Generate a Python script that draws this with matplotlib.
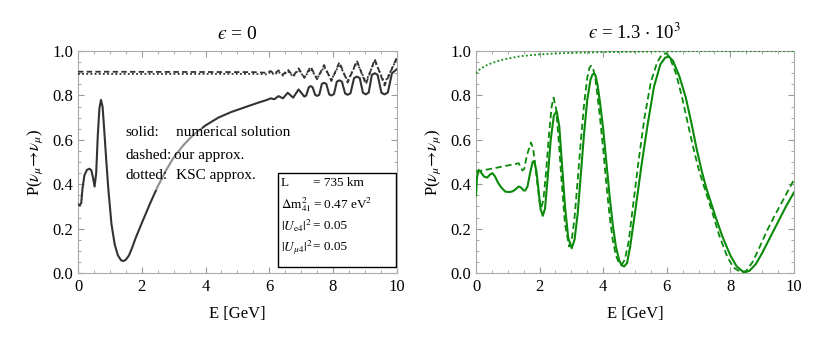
import matplotlib
matplotlib.use("Agg")
import matplotlib.pyplot as plt
from matplotlib.patches import Rectangle
from matplotlib.ticker import MultipleLocator

plt.rcParams["font.family"] = ["Liberation Serif", "DejaVu Serif"]
plt.rcParams["mathtext.fontset"] = "stix"

# ---- left panel (epsilon = 0) ----
e_solid_l = [0, 0.05, 0.1, 0.14, 0.2, 0.28, 0.36, 0.42, 0.47, 0.52, 0.57, 0.62, 0.67, 0.72,
             0.77, 0.82, 0.88, 0.95, 1.05, 1.15, 1.25, 1.35, 1.42, 1.5, 1.6, 1.7, 1.8, 1.9,
             2.0, 2.25, 2.5, 2.75, 3.0, 3.3, 3.6, 4.0, 4.4, 4.8, 5.2, 5.6,
             5.93, 6.04, 6.16, 6.29, 6.43, 6.58, 6.75, 6.92, 7.1, 7.16, 7.24, 7.3, 7.36, 7.44,
             7.5, 7.57, 7.65, 7.72, 7.79, 7.88, 7.95, 8.03, 8.12, 8.2, 8.28, 8.38, 8.46, 8.55,
             8.66, 8.75, 8.84, 8.94, 9.03, 9.12, 9.22, 9.31, 9.4, 9.52, 9.62, 9.72, 9.85, 10.0]
p_solid_l = [0.31, 0.305, 0.315, 0.38, 0.44, 0.465, 0.47, 0.462, 0.43, 0.39, 0.45, 0.62, 0.74, 0.78,
             0.75, 0.65, 0.52, 0.38, 0.22, 0.13, 0.08, 0.058, 0.054, 0.06, 0.08, 0.115, 0.155, 0.19,
             0.225, 0.31, 0.39, 0.46, 0.52, 0.575, 0.62, 0.665, 0.7, 0.725, 0.745, 0.765,
             0.78, 0.787, 0.783, 0.797, 0.787, 0.812, 0.79, 0.827, 0.795, 0.8, 0.837, 0.842, 0.837,
             0.803, 0.798, 0.803, 0.852, 0.857, 0.852, 0.805, 0.8, 0.806, 0.862, 0.868, 0.862,
             0.809, 0.803, 0.81, 0.878, 0.885, 0.878, 0.812, 0.805, 0.813, 0.893, 0.9, 0.893,
             0.812, 0.805, 0.813, 0.9, 0.918]

e_approx_l = [0, 5.5, 5.93, 6.04, 6.16, 6.29, 6.43, 6.58, 6.75, 6.92, 7.1, 7.3, 7.5, 7.72,
              7.95, 8.2, 8.46, 8.75, 9.03, 9.31, 9.62, 10.0]
p_dashed_l = [0.907, 0.905, 0.902, 0.91, 0.897, 0.913, 0.893, 0.917, 0.887, 0.922, 0.88, 0.93,
              0.873, 0.937, 0.865, 0.95, 0.858, 0.957, 0.85, 0.963, 0.845, 0.97]
p_dotted_l = [0.897, 0.897, 0.895, 0.905, 0.893, 0.907, 0.889, 0.91, 0.885, 0.915, 0.88, 0.92,
              0.876, 0.928, 0.871, 0.94, 0.866, 0.948, 0.862, 0.955, 0.856, 0.965]

# ---- right panel (epsilon = 1.3e3) ----
e_solid_r = [0.0, 0.03, 0.08, 0.15, 0.25, 0.35, 0.45, 0.52, 0.6, 0.7, 0.8, 0.92, 1.05, 1.15,
             1.25, 1.34, 1.42, 1.5, 1.55, 1.62, 1.7, 1.78, 1.83, 1.9, 1.97, 2.03, 2.1, 2.17,
             2.25, 2.35, 2.45, 2.54, 2.62, 2.7, 2.8, 2.9, 3.01, 3.1, 3.2, 3.3, 3.4, 3.5, 3.6,
             3.66, 3.71, 3.76, 3.82, 3.9, 4.0, 4.1, 4.2, 4.3, 4.4, 4.5, 4.58, 4.66, 4.75, 4.85,
             5.0, 5.2, 5.4, 5.6, 5.8, 5.95, 6.07, 6.2, 6.4, 6.6, 6.8, 6.94, 7.1, 7.25, 7.52,
             7.75, 8.0, 8.2, 8.43, 8.6, 8.8, 9.0, 9.25, 9.5, 9.75, 10.0]
p_solid_r = [0.35, 0.43, 0.465, 0.455, 0.435, 0.43, 0.445, 0.45, 0.435, 0.405, 0.385, 0.367,
             0.365, 0.368, 0.378, 0.39, 0.385, 0.372, 0.372, 0.39, 0.45, 0.5, 0.505, 0.46,
             0.37, 0.29, 0.258, 0.29, 0.42, 0.6, 0.71, 0.728, 0.66, 0.5, 0.3, 0.16, 0.112,
             0.15, 0.27, 0.45, 0.63, 0.78, 0.87, 0.893, 0.9, 0.89, 0.85, 0.77, 0.65, 0.5, 0.35,
             0.22, 0.12, 0.06, 0.035, 0.03, 0.045, 0.12, 0.27, 0.48, 0.67, 0.84, 0.94, 0.97,
             0.975, 0.955, 0.885, 0.79, 0.66, 0.56, 0.46, 0.38, 0.26, 0.165, 0.08, 0.03, 0.003,
             0.01, 0.04, 0.09, 0.16, 0.23, 0.3, 0.363]

e_dashed_r = [0.0, 0.3, 0.6, 0.9, 1.2, 1.34, 1.4, 1.46, 1.52, 1.6, 1.73, 1.8, 1.9, 2.0, 2.05,
              2.12, 2.2, 2.3, 2.38, 2.44, 2.52, 2.6, 2.7, 2.8, 2.93, 3.02, 3.1, 3.2, 3.3, 3.4,
              3.5, 3.57, 3.62, 3.68, 3.75, 3.82, 3.9, 4.0, 4.1, 4.2, 4.3, 4.4, 4.5, 4.58, 4.68,
              4.8, 4.92, 5.1, 5.3, 5.5, 5.7, 5.85, 5.99, 6.1, 6.3, 6.5, 6.7, 6.86, 7.0, 7.15,
              7.42, 7.65, 7.9, 8.1, 8.35, 8.5, 8.7, 8.9, 9.15, 9.4, 9.7, 10.0]
p_dashed_r = [0.457, 0.465, 0.473, 0.482, 0.49, 0.495, 0.48, 0.462, 0.47, 0.53, 0.588, 0.56,
              0.44, 0.32, 0.293, 0.33, 0.45, 0.63, 0.75, 0.79, 0.74, 0.6, 0.4, 0.22, 0.12, 0.16,
              0.25, 0.42, 0.6, 0.76, 0.88, 0.925, 0.934, 0.925, 0.88, 0.8, 0.7, 0.56, 0.4, 0.26,
              0.15, 0.08, 0.045, 0.037, 0.06, 0.14, 0.28, 0.49, 0.7, 0.86, 0.95, 0.985, 0.99,
              0.97, 0.895, 0.78, 0.65, 0.55, 0.47, 0.4, 0.28, 0.17, 0.075, 0.025, 0.003, 0.01,
              0.05, 0.11, 0.19, 0.26, 0.34, 0.42]

e_dotted_r = [0, 0.1, 0.2, 0.35, 0.5, 0.75, 1.0, 1.4, 2.0, 2.5, 3.0, 4.0, 5.0, 6.0, 7.0, 10.0]
p_dotted_r = [0.9, 0.915, 0.925, 0.937, 0.946, 0.958, 0.966, 0.977, 0.985, 0.989, 0.992,
              0.995, 0.997, 0.999, 1.0, 1.0]

gray = "#333333"
green = "#0a8a0a"

fig = plt.figure(figsize=(8.3, 3.38), dpi=100)
ax1 = fig.add_axes([0.094, 0.192, 0.384, 0.657])
ax2 = fig.add_axes([0.5735, 0.192, 0.383, 0.657])

ax1.plot(e_solid_l, p_solid_l, color=gray, lw=1.5, zorder=3)
ax1.plot(e_approx_l, p_dashed_l, color=gray, lw=1.3, dashes=(3, 1.8), zorder=3)
ax1.plot(e_approx_l, p_dotted_l, color=gray, lw=1.3, dashes=(1, 1.3), zorder=3)

# text block lightens the curve behind it
ax1.add_patch(Rectangle((1.45, 0.375), 2.45, 0.29, facecolor="white", alpha=0.45,
                        edgecolor="none", zorder=4))
rows = [(0.635, "solid:", "numerical solution", 3.06),
        (0.53, "dashed:", "our approx.", 3.02),
        (0.44, "dotted:", "KSC approx.", 3.06)]
for y, lab, txt, x2 in rows:
    ax1.text(1.5, y, lab, fontsize=11, va="center", zorder=5)
    ax1.text(x2, y, txt, fontsize=11, va="center", zorder=5)

ax1.add_patch(Rectangle((6.28, 0.026), 3.69, 0.423, facecolor="white", edgecolor="black",
                        lw=1.0, zorder=5))
params = [(0.404, "L", "= 735 km"),
          (0.31, r"$\Delta$m$^2_{41}$", r"= 0.47 eV$^2$"),
          (0.212, r"$|U_{\rm e4}|^2$", "= 0.05"),
          (0.116, r"$|U_{\mu4}|^2$", "= 0.05")]
for y, lab, val in params:
    ax1.text(6.36, y, lab, fontsize=9.5, va="center", zorder=6)
    ax1.text(7.38, y, val, fontsize=9.5, va="center", zorder=6)

ax2.plot(e_solid_r, p_solid_r, color=green, lw=1.5, zorder=3)
ax2.plot(e_dashed_r, p_dashed_r, color=green, lw=1.3, dashes=(3.5, 2), zorder=3)
ax2.plot(e_dotted_r, p_dotted_r, color=green, lw=1.3, dashes=(1, 1.3), zorder=3)

ax1.set_title("$\u03f5$ = 0", fontsize=14, pad=9)
ax2.set_title("$\u03f5$ = 1.3 $\\cdot$ 10$^3$", fontsize=13.5, pad=9)

for ax in (ax1, ax2):
    ax.set_xlim(0, 10)
    ax.set_ylim(0, 1)
    ax.xaxis.set_major_locator(MultipleLocator(2))
    ax.xaxis.set_minor_locator(MultipleLocator(0.5))
    ax.yaxis.set_major_locator(MultipleLocator(0.2))
    ax.yaxis.set_minor_locator(MultipleLocator(0.05))
    ax.xaxis.set_major_formatter(plt.FuncFormatter(lambda v, p: "%d" % round(v)))
    ax.yaxis.set_major_formatter(plt.FuncFormatter(lambda v, p: "%.1f" % v))
    ax.tick_params(which="both", direction="in", top=True, right=True, color="#999999",
                   labelsize=12)
    ax.tick_params(which="major", length=4, width=0.8)
    ax.tick_params(which="minor", length=2, width=0.6)
    ax.tick_params(axis="x", pad=4)
    for s in ax.spines.values():
        s.set_color("#aaaaaa")
        s.set_linewidth(0.8)
    ax.set_xlabel("E [GeV]", fontsize=12, labelpad=8)
    ax.set_ylabel(r"P($\nu_\mu\!\rightarrow\!\nu_\mu$)", fontsize=12, labelpad=5)

fig.savefig("out.png", dpi=100)
